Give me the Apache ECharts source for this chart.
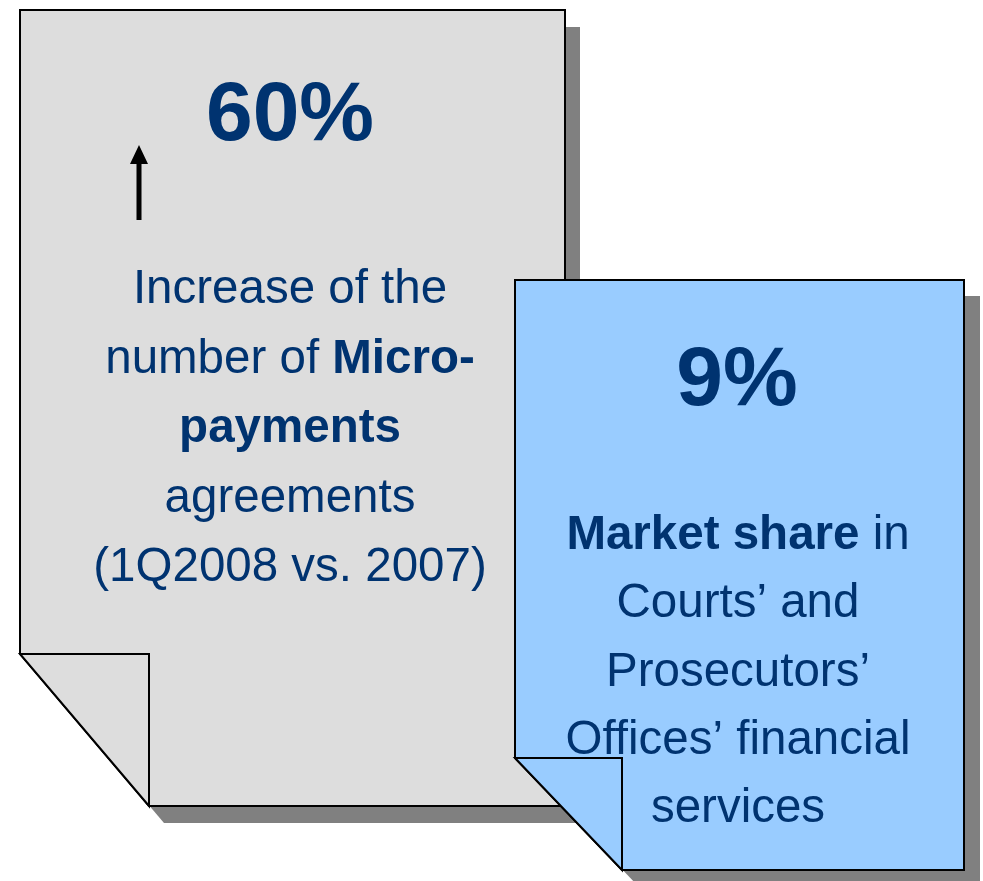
<!DOCTYPE html>
<html>
<head>
<meta charset="utf-8">
<script src="https://cdn.jsdelivr.net/npm/echarts@6/dist/echarts.min.js"></script>
<style>
  html, body { margin: 0; padding: 0; background: #fff; }
  #chart { width: 983px; height: 881px; }
</style>
</head>
<body>
<div id="chart"></div>
<script>
// ----------data----------
const headlineValues = ['60%', '9%'];
// {b|...} = bold part of a line
const leftLines = [
  'Increase of the',
  'number of {b|Micro-}',
  '{b|payments}',
  'agreements',
  '(1Q2008 vs. 2007)',
];
const rightLines = [
  '{b|Market share} in',
  'Courts\u2019 and',
  'Prosecutors\u2019',
  'Offices\u2019 financial',
  'services',
];
// ------------------------

const NAVY = '#003370';
const FONT = '"Liberation Sans", Arial, sans-serif';
const BODY_SIZE = 47.5;
const HEAD_SIZE = 84;

// 文件形狀 (左下角折角)
const docShape = (x0, y0, x1, y1, fx, fy) => [
  [x0, y0], [x1, y0], [x1, y1], [fx, y1], [x0, fy],
];

const buildDoc = (d) => {
  const pts = docShape(d.x0, d.y0, d.x1, d.y1, d.fx, d.fy);
  const shadow = pts.map(([x, y]) => [x + d.sx, y + d.sy]);
  return [
    { type: 'polygon', shape: { points: shadow }, style: { fill: '#808080' } },
    { type: 'polygon', shape: { points: pts }, style: { fill: d.fill, stroke: '#000', lineWidth: 2 } },
    {
      type: 'polygon',
      shape: { points: [[d.x0, d.fy], [d.fx, d.fy], [d.fx, d.y1]] },
      style: { fill: d.fill, stroke: '#000', lineWidth: 2, lineJoin: 'miter' },
    },
  ];
};

const textLine = (text, x, y, size, bold) => ({
  type: 'text',
  x, y,
  style: {
    text,
    fill: NAVY,
    font: `${bold ? 'bold ' : ''}${size}px ${FONT}`,
    align: 'center',
    verticalAlign: 'middle',
    rich: {
      b: { fontWeight: 'bold', fontSize: size, fontFamily: FONT, fill: NAVY },
    },
  },
});

const leftDoc = { x0: 20, y0: 10, x1: 565, y1: 806, fx: 149, fy: 654, sx: 15, sy: 17, fill: '#DDDDDD' };
const rightDoc = { x0: 515, y0: 280, x1: 964, y1: 870, fx: 622, fy: 758, sx: 16, sy: 16, fill: '#99CCFF' };

const elements = [];
elements.push(...buildDoc(leftDoc));

// 上升箭頭
elements.push({
  type: 'polygon',
  shape: { points: [[136.5, 220], [136.5, 164], [130, 164], [139, 145], [148, 164], [141.5, 164], [141.5, 220]] },
  style: { fill: '#000' },
});
elements.push(textLine(headlineValues[0], 290, 117, HEAD_SIZE, true));
leftLines.forEach((t, i) => elements.push(textLine(t, 290, 290 + i * 69.5, BODY_SIZE, false)));

elements.push(...buildDoc(rightDoc));
elements.push(textLine(headlineValues[1], 737, 382, HEAD_SIZE, true));
rightLines.forEach((t, i) => elements.push(textLine(t, 738, 536 + i * 68.3, BODY_SIZE, false)));

const chart = echarts.init(document.getElementById('chart'));
chart.setOption({
  animation: false,
  backgroundColor: '#fff',
  graphic: { elements },
});
</script>
</body>
</html>
